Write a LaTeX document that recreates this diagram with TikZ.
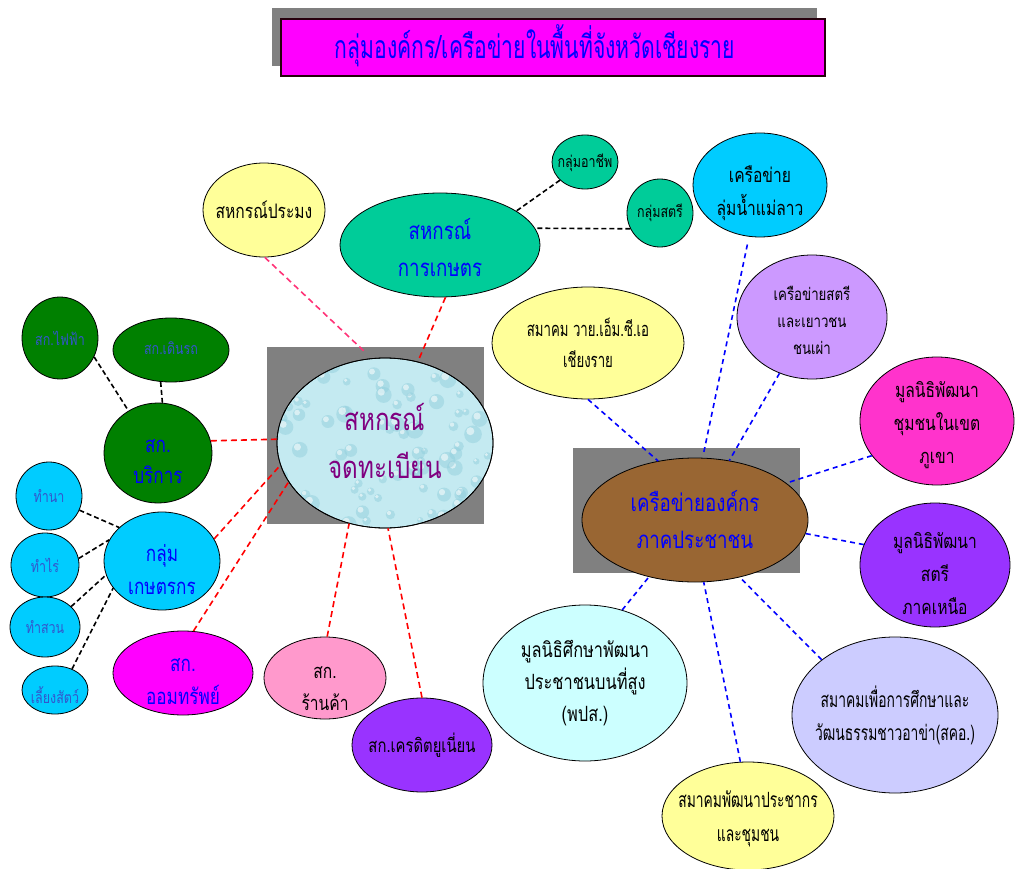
\documentclass[tikz,border=0pt]{standalone}
\usepackage{fontspec}
\usetikzlibrary{shapes.geometric}
\newfontfamily\thaititle[Script=Thai,FakeStretch=0.66]{Loma}
\newfontfamily\thaiw[Script=Thai,FakeStretch=0.78]{Loma}
\newfontfamily\thain[Script=Thai,FakeStretch=0.78]{Loma}
\newfontfamily\thainn[Script=Thai,FakeStretch=0.66]{Loma}
\definecolor{shadowgray}{HTML}{808080}
\definecolor{titlemag}{HTML}{FF00FF}
\definecolor{titleblue}{HTML}{0000FF}
\definecolor{paleyellow}{HTML}{FFFF99}
\definecolor{seagreen}{HTML}{00CC99}
\definecolor{skycyan}{HTML}{00CCFF}
\definecolor{lilac}{HTML}{CC99FF}
\definecolor{hotpink}{HTML}{FF33CC}
\definecolor{brownnet}{HTML}{996633}
\definecolor{violettwo}{HTML}{9933FF}
\definecolor{palecyan}{HTML}{CCFFFF}
\definecolor{lavendertwo}{HTML}{CCCCFF}
\definecolor{darkgreentwo}{HTML}{008000}
\definecolor{pinktwo}{HTML}{FF99CC}
\definecolor{waterbase}{HTML}{C4EAF1}
\definecolor{waterdark}{HTML}{93CFDD}
\definecolor{purpletext}{HTML}{800080}
\definecolor{smallblue}{HTML}{3355CC}
\definecolor{pinkred}{HTML}{FF3377}
\begin{document}
\begin{tikzpicture}[x=1pt,y=-1pt,
  el/.style={ellipse, draw=black, line width=0.8pt, inner sep=0pt},
  shadowbox/.style={rectangle, fill=shadowgray, draw=none, inner sep=0pt},
  lbl/.style={align=center, inner sep=0pt},
  rdash/.style={draw=red, line width=1.6pt, dash pattern=on 6pt off 4pt},
  pdash/.style={draw=pinkred, line width=1.6pt, dash pattern=on 6pt off 4pt},
  bdash/.style={draw=blue, line width=1.6pt, dash pattern=on 5pt off 4pt},
  kdash/.style={draw=black, line width=1.6pt, dash pattern=on 5pt off 3pt}]
\useasboundingbox (0,0) rectangle (1015,869);

% title
\node[shadowbox, minimum width=545pt, minimum height=58pt] (titleshadow) at (544.5,37) {};
\node[rectangle, draw=black!80!purple, line width=1.2pt, fill=titlemag, minimum width=544pt, minimum height=57pt] (title) at (553,47.5) {};
\node[lbl, text=titleblue, font={\thaititle\fontsize{32}{36}\selectfont}] (title-t) at (535,46) {กลุ่มองค์กร/เครือข่ายในพื้นที่จังหวัดเชียงราย};

% shadow boxes
\node[shadowbox, minimum width=217pt, minimum height=177pt] (centerbox) at (375.5,435.5) {};
\node[shadowbox, minimum width=227pt, minimum height=125pt] (netbox) at (686.5,510.5) {};

% ellipses
\node[el, fill=paleyellow, minimum width=122pt, minimum height=94pt] (prm) at (264,210) {};
\node[el, fill=seagreen, minimum width=200pt, minimum height=104pt] (kas) at (440,245) {};
\node[el, fill=seagreen, minimum width=66pt, minimum height=54pt] (achip) at (585,162) {};
\node[el, fill=seagreen, minimum width=66pt, minimum height=68pt] (satri) at (660,213) {};
\node[el, fill=skycyan, minimum width=134pt, minimum height=104pt] (maelao) at (760,185) {};
\node[el, fill=paleyellow, minimum width=192pt, minimum height=112pt] (ymca) at (588,343) {};
\node[el, fill=lilac, minimum width=150pt, minimum height=124pt] (chonphao) at (812,317) {};
\node[el, fill=hotpink, minimum width=154pt, minimum height=128pt] (phukhao) at (937,421) {};
\node[el, fill=brownnet, minimum width=226pt, minimum height=124pt] (net) at (695,520) {};
\node[el, fill=violettwo, minimum width=150pt, minimum height=124pt] (north) at (935,565) {};
\node[el, fill=palecyan, minimum width=204pt, minimum height=156pt] (pps) at (585,683) {};
\node[el, fill=paleyellow, minimum width=172pt, minimum height=108pt] (pop) at (748,816) {};
\node[el, fill=lavendertwo, minimum width=206pt, minimum height=156pt] (akha) at (895,715) {};
\node[el, fill=waterbase, minimum width=216pt, minimum height=170pt] (center) at (385,443) {};
\node[el, fill=darkgreentwo, minimum width=76pt, minimum height=82pt] (fai) at (60,338) {};
\node[el, fill=darkgreentwo, minimum width=116pt, minimum height=64pt] (dern) at (171,350) {};
\node[el, fill=darkgreentwo, minimum width=108pt, minimum height=100pt] (borikan) at (158,453) {};
\node[el, fill=skycyan, minimum width=66pt, minimum height=68pt] (na) at (49,496) {};
\node[el, fill=skycyan, minimum width=68pt, minimum height=64pt] (rai) at (45,565) {};
\node[el, fill=skycyan, minimum width=70pt, minimum height=60pt] (suan) at (45,627) {};
\node[el, fill=skycyan, minimum width=66pt, minimum height=48pt] (liang) at (55,690) {};
\node[el, fill=skycyan, minimum width=116pt, minimum height=98pt] (kaset) at (162,561) {};
\node[el, fill=titlemag, minimum width=140pt, minimum height=84pt] (om) at (183,673) {};
\node[el, fill=pinktwo, minimum width=122pt, minimum height=82pt] (rankha) at (325,678) {};
\node[el, fill=violettwo, minimum width=140pt, minimum height=94pt] (credit) at (422,745) {};

% water-drop texture of the centre ellipse
\begin{scope}
\clip (385,443) ellipse [x radius=107.5pt, y radius=84.5pt];
\pgfmathsetseed{11}
\foreach \i in {1,...,90}{
  \pgfmathsetmacro{\px}{385+rand*112}
  \pgfmathsetmacro{\py}{443+rand*90}
  \pgfmathsetmacro{\rr}{3+6*rnd}
  \pgfmathsetmacro{\rs}{0.45*\rr}
  \fill[waterdark, opacity=0.5] (\px,\py) circle [radius=\rr pt];
  \fill[white, opacity=0.55] (\px-0.3*\rr,\py-0.35*\rr) circle [radius=\rs pt];
}
\end{scope}
\draw[line width=0.8pt] (center.center) ellipse [x radius=108pt, y radius=85pt];

% connectors to the centre
\draw[pdash, shorten >=11pt] (prm.-89) -- (center.99);
\draw[rdash] (kas.-84) -- (center.68);
\draw[rdash] (borikan.13) -- (center.178);
\draw[rdash] (kaset.23) -- (center.192);
\draw[rdash] (om.76) -- (center.202);
\draw[rdash] (rankha.87) -- (center.-114);
\draw[rdash] (credit.90) -- (center.-88);
% black connectors
\draw[kdash] (achip.216) -- (kas.24);
\draw[kdash] (satri.208) -- (kas.10);
\draw[kdash] (fai.-29) -- (borikan.125);
\draw[kdash] (dern.-108) -- (borikan.85);
\draw[kdash] (na.-25) -- (kaset.142);
\draw[kdash] (rai.11) -- (kaset.158);
\draw[kdash] (suan.38) -- (kaset.194);
\draw[kdash] (liang.51) -- (kaset.209);
% blue connectors
\draw[bdash, shorten <=8pt, shorten >=6pt] (maelao.-102) -- (net.83);
\draw[bdash] (chonphao.-120) -- (net.60);
\draw[bdash] (ymca.-90) -- (net.122);
\draw[bdash] (phukhao.208) -- (net.22);
\draw[bdash] (north.164) -- (net.-7);
\draw[bdash] (pps.63) -- (net.231);
\draw[bdash] (pop.98) -- (net.-82);
\draw[bdash] (akha.143) -- (net.-52);

% texts
\node[lbl, font={\thain\fontsize{20}{32}\selectfont}] (prm-t) at (prm) {สหกรณ์ประมง};
\node[lbl, text=titleblue, font={\thaiw\fontsize{24}{37}\selectfont}, yshift=-3pt] (kas-t) at (kas) {สหกรณ์\\การเกษตร};
\node[lbl, font={\thain\fontsize{16}{20}\selectfont}, yshift=-1pt] (achip-t) at (achip) {กลุ่มอาชีพ};
\node[lbl, font={\thain\fontsize{16}{20}\selectfont}] (satri-t) at (satri) {กลุ่มสตรี};
\node[lbl, font={\thain\fontsize{20}{33}\selectfont}, yshift=-8pt] (maelao-t) at (maelao) {เครือข่าย\\ลุ่มน้ำแม่ลาว};
\node[lbl, font={\thainn\fontsize{20}{31}\selectfont}] (ymca-t) at (ymca) {สมาคม วาย.เอ็ม.ซี.เอ\\เชียงราย};
\node[lbl, font={\thain\fontsize{17}{27}\selectfont}, yshift=-3pt] (chonphao-t) at (chonphao) {เครือข่ายสตรี\\และเยาวชน\\ชนเผ่า};
\node[lbl, font={\thain\fontsize{20}{33}\selectfont}, yshift=-4pt] (phukhao-t) at (phukhao) {มูลนิธิพัฒนา\\ชุมชนในเขต\\ภูเขา};
\node[lbl, text=titleblue, font={\thaiw\fontsize{24}{37}\selectfont}] (net-t) at (net) {เครือข่ายองค์กร\\ภาคประชาชน};
\node[lbl, font={\thain\fontsize{20}{33}\selectfont}, yshift=-9pt] (north-t) at (north) {มูลนิธิพัฒนา\\สตรี\\ภาคเหนือ};
\node[lbl, font={\thain\fontsize{21}{32}\selectfont}] (pps-t) at (pps) {มูลนิธิศึกษาพัฒนา\\ประชาชนบนที่สูง\\(พปส.)};
\node[lbl, font={\thainn\fontsize{21}{34}\selectfont}, yshift=-3pt] (pop-t) at (pop) {สมาคมพัฒนาประชากร\\และชุมชน};
\node[lbl, font={\thainn\fontsize{21}{33}\selectfont}] (akha-t) at (akha) {สมาคมเพื่อการศึกษาและ\\วัฒนธรรมชาวอาข่า(สคอ.)};
\node[lbl, text=purpletext, font={\thaiw\fontsize{31}{48}\selectfont}, yshift=2pt] (center-t) at (center) {สหกรณ์\\จดทะเบียน};
\node[lbl, text=smallblue, font={\thain\fontsize{16}{20}\selectfont}] (fai-t) at (fai) {สก.ไฟฟ้า};
\node[lbl, text=smallblue, font={\thain\fontsize{16}{20}\selectfont}, yshift=2pt] (dern-t) at (dern) {สก.เดินรถ};
\node[lbl, text=titleblue, font={\thaiw\fontsize{22}{31}\selectfont}, yshift=-9pt] (borikan-t) at (borikan) {สก.\\บริการ};
\node[lbl, text=smallblue, font={\thain\fontsize{16}{20}\selectfont}] (na-t) at (na) {ทำนา};
\node[lbl, text=smallblue, font={\thain\fontsize{16}{20}\selectfont}] (rai-t) at (rai) {ทำไร่};
\node[lbl, text=smallblue, font={\thain\fontsize{16}{20}\selectfont}] (suan-t) at (suan) {ทำสวน};
\node[lbl, text=smallblue, font={\thain\fontsize{16}{20}\selectfont}, yshift=-5pt] (liang-t) at (liang) {เลี้ยงสัตว์};
\node[lbl, text=titleblue, font={\thaiw\fontsize{22}{33}\selectfont}, yshift=-9pt] (kaset-t) at (kaset) {กลุ่ม\\เกษตรกร};
\node[lbl, text=titleblue, font={\thaiw\fontsize{22}{33}\selectfont}, yshift=-9pt] (om-t) at (om) {สก.\\ออมทรัพย์};
\node[lbl, font={\thain\fontsize{20}{32}\selectfont}, yshift=-11pt] (rankha-t) at (rankha) {สก.\\ร้านค้า};
\node[lbl, font={\thain\fontsize{19}{24}\selectfont}] (credit-t) at (credit) {สก.เครดิตยูเนี่ยน};
\end{tikzpicture}
\end{document}
